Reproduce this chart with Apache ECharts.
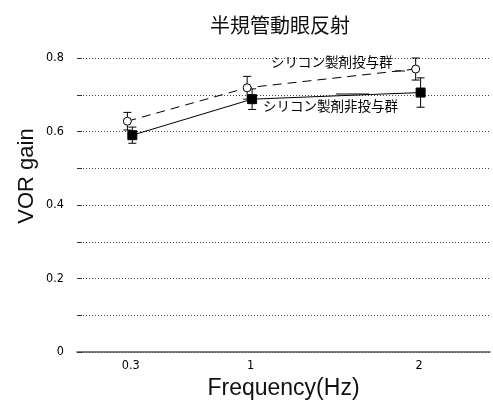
<!DOCTYPE html>
<html>
<head>
<meta charset="utf-8">
<script src="https://cdn.jsdelivr.net/npm/echarts@6/dist/echarts.min.js"></script>
<style>
  html, body { margin: 0; padding: 0; background: #fff; }
  #main { width: 493px; height: 400px; }
</style>
</head>
<body>
<div id="main"></div>
<script>
// frequencies and where they sit along the x axis (the original spacing is uneven)
var freqLabels = ["0.3", "1", "2"];
var freqPos = [1.3, 4.2, 8.28];

// VOR gain, mean and SD
var dosedMean = [0.628, 0.719, 0.770];
var dosedSd = [0.024, 0.031, 0.030];
var nonDosedMean = [0.590, 0.688, 0.706];
var nonDosedSd = [0.022, 0.028, 0.040];

var yTicks = [0, 0.2, 0.4, 0.6, 0.8];

var chartDom = document.getElementById("main");
var myChart = echarts.init(chartDom);
var option;

function pts(mean, shift) {
  return mean.map(function (v, i) { return [freqPos[i] + shift, v]; });
}
function errs(mean, sd, shift) {
  return mean.map(function (v, i) { return [freqPos[i] + shift, v - sd[i], v + sd[i]]; });
}

function errorBar(params, api) {
  var x = api.value(0);
  var lo = api.coord([x, api.value(1)]);
  var hi = api.coord([x, api.value(2)]);
  var w = 4;
  var st = { stroke: "#000", lineWidth: 1 };
  return {
    type: "group",
    children: [
      { type: "line", shape: { x1: lo[0], y1: lo[1], x2: hi[0], y2: hi[1] }, style: st },
      { type: "line", shape: { x1: lo[0] - w, y1: lo[1], x2: lo[0] + w, y2: lo[1] }, style: st },
      { type: "line", shape: { x1: hi[0] - w, y1: hi[1], x2: hi[0] + w, y2: hi[1] }, style: st }
    ]
  };
}

var dShift = -0.08;
var nShift = 0.04;
var tickFont = "'DejaVu Sans Condensed', 'Liberation Sans Narrow', sans-serif";

option = {
  animation: false,
  title: {
    text: "半規管動眼反射",
    left: 275,
    textAlign: "center",
    top: 10,
    textStyle: { fontFamily: "Noto Sans CJK JP", fontSize: 20, fontWeight: "normal", color: "#111" }
  },
  grid: { left: 77, right: 3, top: 58, bottom: 48, outerBoundsMode: "none" },
  xAxis: {
    type: "value",
    min: 0,
    max: 10,
    axisLine: { show: true, onZero: false, lineStyle: { color: "#555", width: 1.5 } },
    axisTick: { show: false },
    splitLine: { show: false },
    axisLabel: {
      customValues: freqPos,
      formatter: function (v) {
        var i = freqPos.indexOf(v);
        return i >= 0 ? freqLabels[i] : "";
      },
      fontFamily: tickFont,
      fontSize: 12.5,
      color: "#000",
      margin: 7
    },
    name: "Frequency(Hz)",
    nameLocation: "middle",
    nameGap: 20,
    nameTextStyle: { fontFamily: "Liberation Sans", fontSize: 23, color: "#111" }
  },
  yAxis: {
    type: "value",
    min: 0,
    max: 0.8,
    interval: 0.1,
    axisLine: { show: false },
    axisTick: { show: true, inside: true, length: 5, lineStyle: { color: "#333" } },
    splitLine: { show: true, lineStyle: { color: "#444", type: [1, 2], width: 1 } },
    axisLabel: {
      formatter: function (v) {
        var r = Math.round(v * 10) / 10;
        return yTicks.some(function (t) { return Math.abs(t - r) < 1e-6; }) ? String(r) : "";
      },
      fontFamily: tickFont,
      fontSize: 12.5,
      color: "#000",
      margin: 13
    }
  },
  series: [
    {
      name: "シリコン製剤投与群",
      type: "line",
      data: pts(dosedMean, dShift),
      symbol: "circle",
      symbolSize: 8,
      itemStyle: { color: "#fff", borderColor: "#000", borderWidth: 1 },
      lineStyle: { color: "#000", width: 1, type: [9, 6] },
      z: 3
    },
    {
      type: "custom",
      renderItem: errorBar,
      data: errs(dosedMean, dosedSd, dShift),
      z: 2
    },
    {
      name: "シリコン製剤非投与群",
      type: "line",
      data: pts(nonDosedMean, nShift),
      symbol: "rect",
      symbolSize: 9,
      itemStyle: { color: "#000", borderColor: "#000" },
      lineStyle: { color: "#000", width: 1 },
      z: 4
    },
    {
      type: "custom",
      renderItem: errorBar,
      data: errs(nonDosedMean, nonDosedSd, nShift),
      z: 2
    }
  ],
  graphic: [
    {
      type: "text",
      x: 27,
      y: 176,
      rotation: Math.PI / 2,
      style: {
        text: "VOR gain",
        font: "22px 'Liberation Sans'",
        fill: "#111",
        align: "center",
        verticalAlign: "middle"
      }
    },
    {
      type: "text",
      left: 271,
      top: 55,
      style: { text: "シリコン製剤投与群", font: "13.5px 'Noto Sans CJK JP'", fill: "#000" }
    },
    {
      type: "line",
      shape: { x1: 395, y1: 71, x2: 405, y2: 71 },
      style: { stroke: "#000", lineWidth: 1 }
    },
    {
      type: "text",
      left: 263,
      top: 99,
      style: { text: "シリコン製剤非投与群", font: "13.5px 'Noto Sans CJK JP'", fill: "#000" }
    },
    {
      type: "line",
      shape: { x1: 336, y1: 94, x2: 369, y2: 94 },
      style: { stroke: "#000", lineWidth: 1 }
    }
  ]
};

option && myChart.setOption(option);
</script>
</body>
</html>
